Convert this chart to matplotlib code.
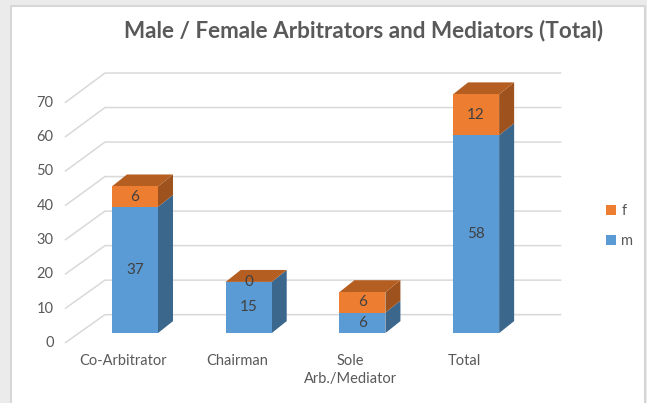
# Male / Female arbitrators chart - Excel style 3D stacked columns

import numpy as np
import matplotlib.pyplot as plt
from matplotlib.patches import Polygon, Rectangle, Patch

# Data
categories = ['Co-Arbitrator', 'Chairman', 'Sole\nArb./Mediator', 'Total']
male = [37, 15, 6, 58]
female = [6, 0, 6, 12]
y_ticks = [0, 10, 20, 30, 40, 50, 60, 70]

title = 'Male / Female Arbitrators and Mediators (Total)'

# Colours
blue = '#5B9BD5'
blue_side = '#3C678D'
orange = '#ED7D31'
orange_side = '#9E521D'
orange_top = '#B45E22'
grid_col = '#D9D9D9'
text_col = '#595959'
label_col = '#404040'

plt.rcParams['font.family'] = ['Lato', 'DejaVu Sans']

fig = plt.figure(figsize=(6.47, 4.03), dpi=100, facecolor='#EBEBEB')
fig.patches.append(Rectangle((11 / 647, -0.01), 634 / 647, 1 - 6 / 403 + 0.01,
                             transform=fig.transFigure, facecolor='white',
                             edgecolor='#D6D6D6', linewidth=1.5, zorder=-5))

ax = fig.add_axes([0, 0, 1, 1])
ax.set_xlim(-1.187, 4.503)
ax.set_ylim(-20.5, 97.65)
ax.axis('off')

x = np.arange(len(categories))
width = 0.405
dx, dy = 0.132, 3.5          # depth of the columns
front_off, back_off = -2.9, 5.4   # floor front / back wall offsets
x_front, x_back, x_right = -0.616, -0.264, 3.75

# gridlines with the perspective floor
for v in y_ticks:
    ax.plot([x_front, x_back, x_right],
            [v * 1.006 + front_off, v * 1.012 + back_off, v * 1.012 + back_off],
            color=grid_col, lw=1.1, zorder=1, solid_capstyle='butt')
    ax.text(x_front - 0.1, v * 1.006 + front_off, str(v), ha='right', va='center',
            fontsize=10.5, color=text_col)

# front faces
ax.bar(x, male, width, color=blue, zorder=3)
ax.bar(x, female, width, bottom=male, color=orange, zorder=3)

# side and top faces
for xi, m, f in zip(x, male, female):
    xr = xi + width / 2
    xl = xi - width / 2
    top = m + f
    ax.add_patch(Polygon([(xr, 0), (xr + dx, dy), (xr + dx, m + dy), (xr, m)],
                         closed=True, facecolor=blue_side, edgecolor='none', zorder=2))
    if f > 0:
        ax.add_patch(Polygon([(xr, m), (xr + dx, m + dy), (xr + dx, top + dy), (xr, top)],
                             closed=True, facecolor=orange_side, edgecolor='none', zorder=2))
    ax.add_patch(Polygon([(xl, top), (xl + dx, top + dy), (xr + dx, top + dy), (xr, top)],
                         closed=True, facecolor=orange_top, edgecolor='none', zorder=2))

    # data labels
    ax.text(xi, m / 2, str(m), ha='center', va='center', fontsize=11,
            color=label_col, zorder=5)
    ax.text(xi, m + f / 2, str(f), ha='center', va='center', fontsize=11,
            color=label_col, zorder=5)

# category labels
for xi, cat in zip(x, categories):
    ax.text(xi - 0.105, -6.2, cat, ha='center', va='top', fontsize=10.5,
            color=text_col, linespacing=1.35)

fig.text(364 / 647, 1 - 31 / 403, title, ha='center', va='center',
         fontsize=16.2, fontweight='bold', color=text_col)

handles = [Patch(facecolor=orange, label='f'), Patch(facecolor=blue, label='m')]
ax.legend(handles=handles, loc='center left', bbox_to_anchor=(593 / 647, 1 - 226 / 403),
          frameon=False, handlelength=0.65, handleheight=0.65, handletextpad=0.4,
          labelspacing=1.1, fontsize=10.5, labelcolor=text_col)

fig.savefig('out.png', dpi=100, facecolor=fig.get_facecolor())
